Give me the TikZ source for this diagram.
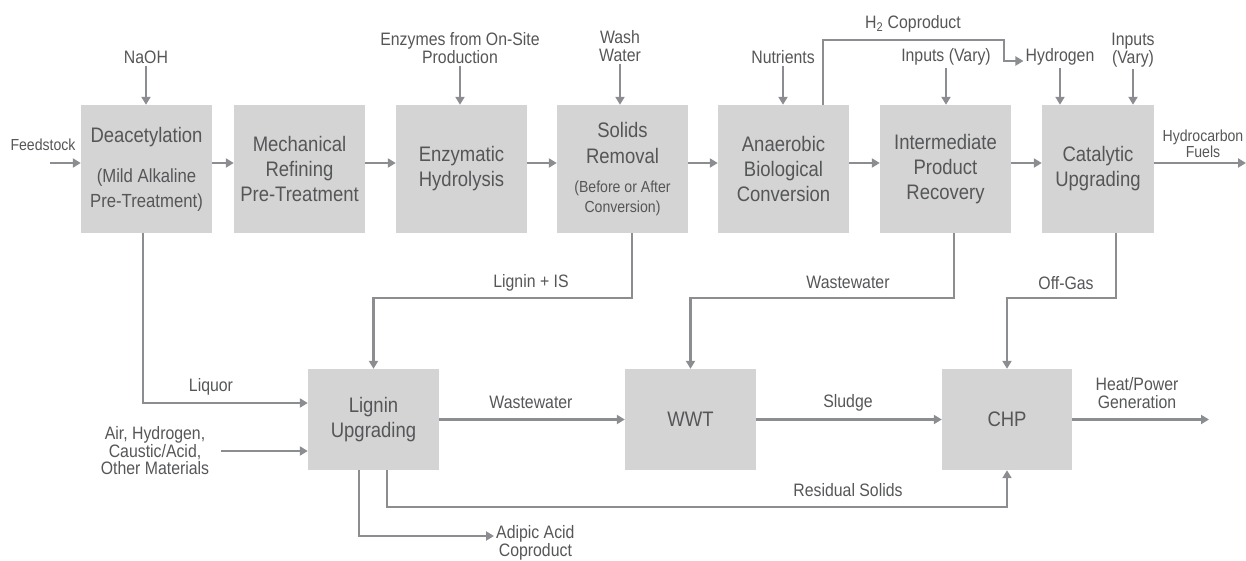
\documentclass[tikz,border=0pt]{standalone}
\usepackage{fontspec}
\setmainfont{Liberation Sans}[FakeStretch=0.88]
\usetikzlibrary{arrows.meta}
\definecolor{boxgray}{HTML}{D4D4D4}
\definecolor{linegray}{HTML}{8C8D90}
\definecolor{txt}{HTML}{555658}
\newcommand{\myfs}[2]{\fontsize{#1}{#2}\selectfont}
\begin{document}
\begin{tikzpicture}[x=1pt,y=-1pt,
 box/.style={fill=boxgray,draw=none,inner sep=0pt,text=txt,align=center,font=\myfs{21}{25},minimum width=131pt},
 tbox/.style={box,minimum height=128pt},
 bbox/.style={box,minimum height=101pt},
 lab/.style={text=txt,align=center,font=\myfs{18}{17.5},inner sep=2pt},
 slab/.style={lab,font=\myfs{16}{16}},
 arr/.style={draw=linegray,line width=2.8pt,-{Triangle[length=8pt,width=9pt]}},
]
\useasboundingbox (0,0) rectangle (1246,561);

% top row
\node[tbox] (deac) at (146.5,169) {Deacetylation\\[15pt]{\myfs{19}{24}(Mild Alkaline}\\{\myfs{19}{24}Pre-Treatment)}};
\node[tbox] (mech) at (299.5,169) {Mechanical\\Refining\\Pre-Treatment};
\node[tbox] (enz) at (461.5,169) {Enzymatic\\Hydrolysis};
\node[tbox] (solids) at (622.5,169) {Solids\\[1pt]Removal\\[4pt]{\myfs{16}{20}(Before or After}\\[-5pt]{\myfs{16}{20}Conversion)}};
\node[tbox] (anaer) at (783.5,169) {Anaerobic\\Biological\\Conversion};
\node[tbox] (inter) at (945.5,169) {Intermediate\\Product\\Recovery};
\node[tbox,minimum width=112pt] (cat) at (1098,169) {Catalytic\\Upgrading};

% bottom row
\node[bbox] (lig) at (373.5,419.5) {Lignin\\Upgrading};
\node[bbox] (wwt) at (690.5,419.5) {WWT};
\node[bbox,minimum width=130pt] (chp) at (1007,419.5) {CHP};

% top labels
\node[slab] (feed) at (43,145) {Feedstock};
\node[lab] (naoh) at (146,57) {NaOH};
\node[lab] (enzin) at (460,48) {Enzymes from On-Site\\Production};
\node[lab] (wash) at (620,46) {Wash\\Water};
\node[lab] (nutr) at (783,57) {Nutrients};
\node[lab] (h2lab) at (913,24) {H\textsubscript{2} Coproduct};
\node[lab] (inpv) at (946,57) {Inputs (Vary)};
\node[lab] (hyd) at (1060,57) {Hydrogen};
\node[lab] (inpv2) at (1133,50) {Inputs\\(Vary)};
\node[slab] (hcf) at (1203,144) {Hydrocarbon\\Fuels};

% bottom labels
\node[lab] (liq) at (211,387) {Liquor};
\node[lab] (lis) at (531,283) {Lignin + IS};
\node[lab] (ww1) at (531,402) {Wastewater};
\node[lab] (ww2) at (848,282) {Wastewater};
\node[lab] (offg) at (1066,283) {Off-Gas};
\node[lab] (sludge) at (848,403) {Sludge};
\node[lab] (heat) at (1137,393) {Heat/Power\\Generation};
\node[lab] (resid) at (848,490) {Residual Solids};
\node[lab] (air) at (155,451) {Air, Hydrogen,\\Caustic/Acid,\\Other Materials};
\node[lab,anchor=west] (adip) at (494,543) {Adipic Acid\\Coproduct};

% helper coordinates
\coordinate (rowy) at (0,163);
\coordinate (fs) at (50,163);
\coordinate (hcend) at (1246,163);
\coordinate (h2c) at (1004,40);
\coordinate (ylis) at (0,298);
\coordinate (yliq) at (0,403);
\coordinate (yres) at (0,507);
\coordinate (hpend) at (1209,419.5);

% top inputs
\draw[arr] (fs) -- (fs -| deac.west);
\draw[arr] (naoh.south) -- (naoh.south |- deac.north);
\draw[arr] (enzin.south) -- (enzin.south |- enz.north);
\draw[arr] (wash.south) -- (wash.south |- solids.north);
\draw[arr] (nutr.south) -- (nutr.south |- anaer.north);
\draw[arr] (inpv.south) -- (inpv.south |- inter.north);
\draw[arr] (hyd.south) -- (hyd.south |- cat.north);
\draw[arr] (inpv2.south) -- (inpv2.south |- cat.north);
\draw[arr] ([xshift=39.5pt]anaer.north) |- (h2c) |- ([yshift=-4pt]hyd.west);

% main line
\foreach \a/\b in {deac/mech,mech/enz,enz/solids,solids/anaer,anaer/inter,inter/cat}
  \draw[arr] (\a.east |- rowy) -- (\b.west |- rowy);
\draw[arr] (cat.east |- rowy) -- (hcend);

% down connections
\draw[arr] ([xshift=-3.5pt]deac.south) |- (lig.west |- yliq);
\draw[arr] ([xshift=9.5pt]solids.south) |- (lig.north |- ylis) -- (lig.north);
\draw[arr] ([xshift=8.5pt]inter.south) |- (wwt.north |- ylis) -- (wwt.north);
\draw[arr] ([xshift=18pt]cat.south) |- (chp.north |- ylis) -- (chp.north);

% bottom line
\draw[arr] (lig.east) -- (wwt.west);
\draw[arr] (wwt.east) -- (chp.west);
\draw[arr] (chp.east) -- (hpend);
\draw[arr] ([xshift=10pt]air.east) -- (air.east -| lig.west);
\draw[arr] ([xshift=13.5pt]lig.south) |- (chp.south |- yres) -- (chp.south);
\draw[arr] ([xshift=-14.5pt]lig.south) |- ([yshift=7pt]adip.west);
\end{tikzpicture}
\end{document}
